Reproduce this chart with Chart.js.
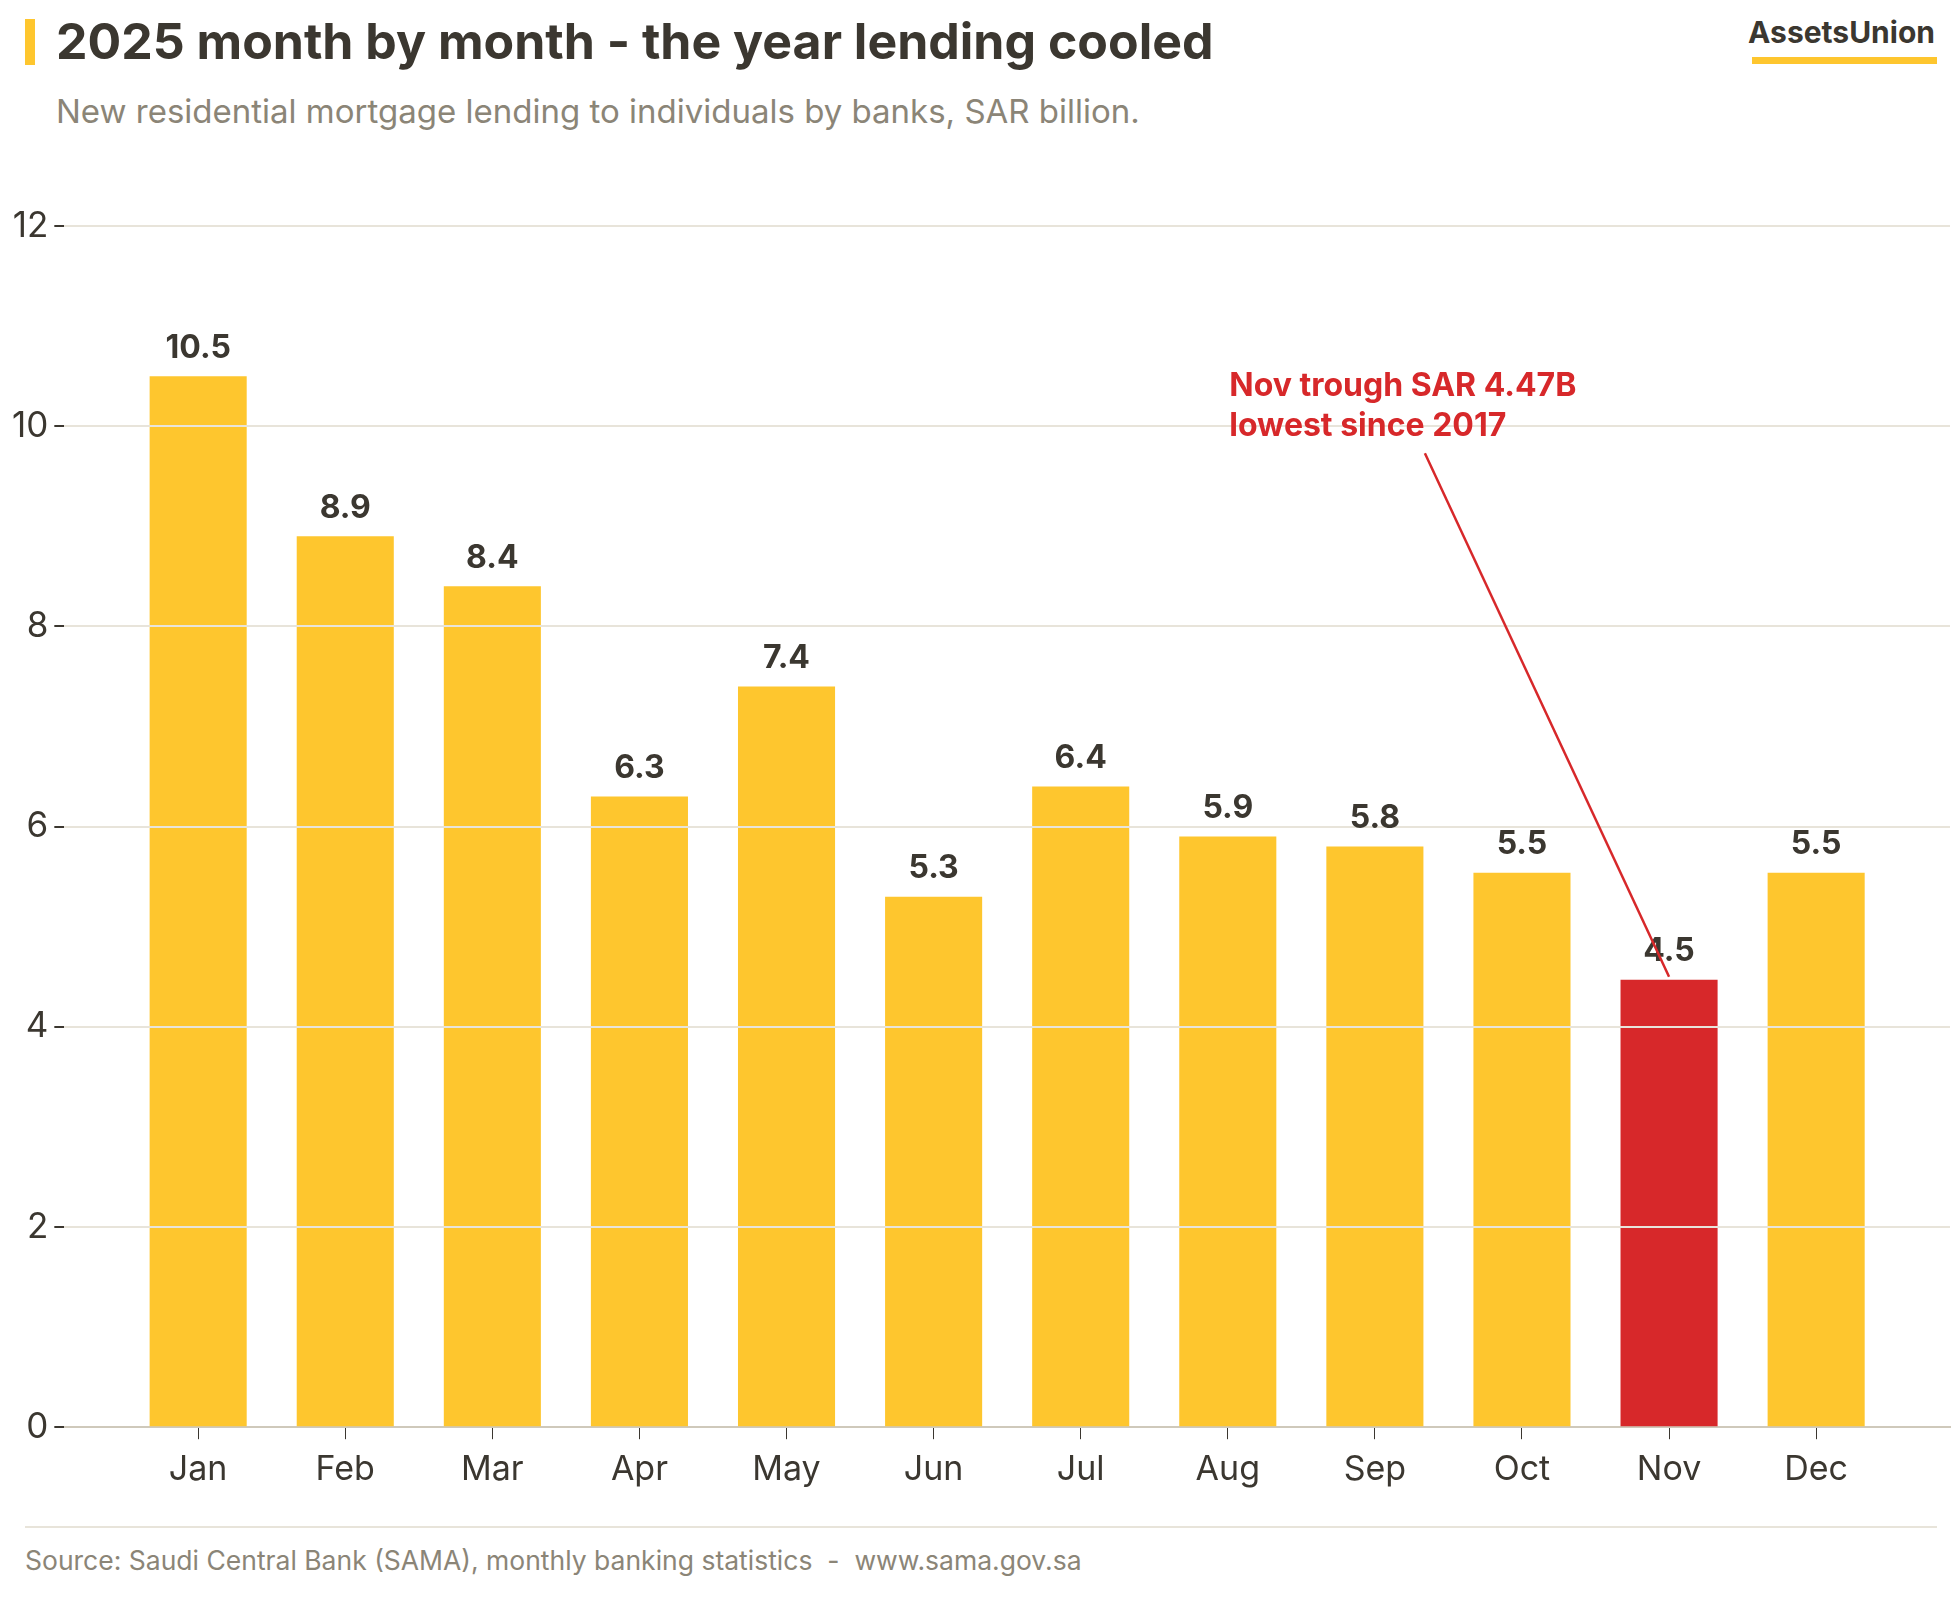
<!DOCTYPE html>
<html>
<head>
<meta charset="utf-8">
<title>2025 month by month</title>
<script src="https://cdn.jsdelivr.net/npm/chart.js@4.4.1/dist/chart.umd.min.js"></script>
<style>
	body { margin: 0; background: #fff; font-family: Inter, "Noto Sans", sans-serif; }
	#pagina { position: relative; width: 1960px; height: 1600px; overflow: hidden; }
	.abs { position: absolute; white-space: nowrap; }
	#barra { left: 25px; top: 19px; width: 10px; height: 46px; background: #fec62e; }
	#titulo { left: 56px; top: 16px; font-size: 50px; line-height: 50px; font-weight: 700; color: #3b3730; }
	#subtitulo { left: 56px; top: 94px; font-size: 33px; line-height: 34px; color: #8b8577; }
	#logo { right: 25px; top: 16px; font-size: 30px; line-height: 32px; font-weight: 700; color: #3b3730; }
	#logo-barra { left: 1752px; top: 57px; width: 185px; height: 7px; background: #fec62e; }
	#regua { left: 25px; top: 1526px; width: 1912px; height: 2px; background: #e8e4da; }
	#fonte { left: 25px; top: 1545px; font-size: 26.5px; line-height: 30px; color: #8b8577; }
	#grafico { position: absolute; left: 0; top: 0; }
</style>
</head>
<body>
<div id="pagina">
	<div class="abs" id="barra"></div>
	<div class="abs" id="titulo">2025 month by month - the year lending cooled</div>
	<div class="abs" id="subtitulo">New residential mortgage lending to individuals by banks, SAR billion.</div>
	<div class="abs" id="logo">AssetsUnion</div>
	<div class="abs" id="logo-barra"></div>
	<canvas id="grafico" width="1960" height="1500"></canvas>
	<div class="abs" id="regua"></div>
	<div class="abs" id="fonte">Source: Saudi Central Bank (SAMA), monthly banking statistics &nbsp;- &nbsp;www.sama.gov.sa</div>
</div>
<script>
(function() {

	// dados
	var meses = ["Jan", "Feb", "Mar", "Apr", "May", "Jun", "Jul", "Aug", "Sep", "Oct", "Nov", "Dec"];
	var valores = [10.5, 8.9, 8.4, 6.3, 7.4, 5.3, 6.4, 5.9, 5.8, 5.54, 4.47, 5.54];
	var ticksY = [0, 2, 4, 6, 8, 10, 12];
	var mesDestaque = 10;
	var notaLinhas = ["Nov trough SAR 4.47B", "lowest since 2017"];

	var AMARELO = "#fec62e";
	var VERMELHO = "#d7282a";
	var TEXTO = "#3b3730";

	var pontos = valores.map(function(v, i) { return { x: i, y: v }; });
	var cores = valores.map(function(v, i) { return i === mesDestaque ? VERMELHO : AMARELO; });

	// rotulos em cima das barras (depois da grade)
	var pluginRotulos = {
		id: 'rotulos',
		afterDraw: function(chart) {
			var ctx = chart.ctx;
			var meta = chart.getDatasetMeta(0);
			ctx.save();
			ctx.font = "700 32px Inter";
			ctx.fillStyle = TEXTO;
			ctx.textAlign = "center";
			ctx.textBaseline = "bottom";
			meta.data.forEach(function(barra, i) {
				ctx.fillText(valores[i].toFixed(1), barra.x, barra.y - 12);
			});
			ctx.restore();
		}
	};

	// nota do mes mais baixo
	var pluginNota = {
		id: 'nota',
		afterDraw: function(chart) {
			var ctx = chart.ctx;
			var x = chart.scales.x;
			var y = chart.scales.y;
			ctx.save();
			ctx.strokeStyle = VERMELHO;
			ctx.lineWidth = 2.5;
			ctx.beginPath();
			ctx.moveTo(x.getPixelForValue(8.34), y.getPixelForValue(9.73));
			ctx.lineTo(x.getPixelForValue(mesDestaque), y.getPixelForValue(4.5));
			ctx.stroke();
			ctx.font = "700 32px Inter";
			ctx.fillStyle = VERMELHO;
			ctx.textAlign = "left";
			ctx.textBaseline = "middle";
			ctx.fillText(notaLinhas[0], x.getPixelForValue(7.01), y.getPixelForValue(10.4));
			ctx.fillText(notaLinhas[1], x.getPixelForValue(7.01), y.getPixelForValue(10.0));
			ctx.restore();
		}
	};

	var ctx = document.getElementById("grafico");
	var grafico = new Chart(ctx, {
		type: 'bar',
		data: {
			datasets: [{
				data: pontos,
				backgroundColor: cores,
				borderWidth: 0,
				barPercentage: 0.66,
				categoryPercentage: 1
			}]
		},
		options: {
			responsive: false,
			animation: false,
			layout: { padding: { top: 226, left: 6, right: 10, bottom: 0 } },
			plugins: {
				legend: { display: false },
				tooltip: { enabled: false }
			},
			scales: {
				x: {
					type: 'linear',
					offset: false,
					min: -0.91,
					max: 11.91,
					afterBuildTicks: function(scale) {
						scale.ticks = meses.map(function(m, i) { return { value: i }; });
					},
					ticks: {
						color: TEXTO,
						font: { family: "Inter", size: 34 },
						padding: 10,
						callback: function(v) { return meses[v]; }
					},
					grid: {
						offset: false,
						drawOnChartArea: false,
						drawTicks: true,
						tickLength: 12,
						tickColor: TEXTO
					},
					border: { color: "#cfc9bb", width: 2 }
				},
				y: {
					min: 0,
					max: 12,
					afterBuildTicks: function(scale) {
						scale.ticks = ticksY.map(function(v) { return { value: v }; });
					},
					ticks: {
						color: TEXTO,
						font: { family: "Inter", size: 35 },
						padding: 6
					},
					grid: {
						z: 1,
						color: function(c) { return c.tick && c.tick.value === 0 ? "rgba(0,0,0,0)" : "#e8e4da"; },
						lineWidth: 2,
						tickLength: 10,
						tickColor: TEXTO
					},
					border: { display: false }
				}
			}
		},
		plugins: [pluginRotulos, pluginNota]
	});
})();
</script>
</body>
</html>
